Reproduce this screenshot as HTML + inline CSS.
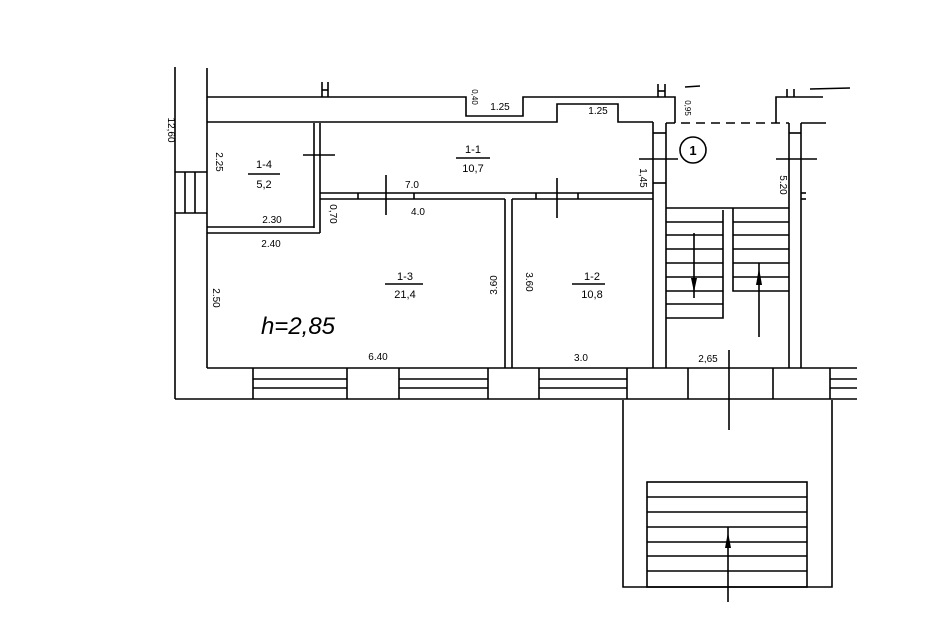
<!DOCTYPE html>
<html><head><meta charset="utf-8"><style>
html,body{margin:0;padding:0;background:#fff;}
svg{display:block;}
text{font-family:"Liberation Sans",sans-serif;fill:#000;}
</style></head><body>
<svg width="932" height="632" viewBox="0 0 932 632" xmlns="http://www.w3.org/2000/svg">
<g stroke="#000" stroke-width="1.6" fill="none">
<!-- outer left wall -->
<line x1="175" y1="67" x2="175" y2="399"/>
<line x1="207" y1="68" x2="207" y2="368"/>
<line x1="175" y1="399" x2="857" y2="399"/>
<!-- top wall -->
<polyline points="207,97 466,97 466,116 523,116 523,97 675,97 675,123"/>
<polyline points="207,122 557,122 557,104 618,104 618,122 653,122"/>
<line x1="322" y1="82" x2="322" y2="97"/><line x1="328" y1="82" x2="328" y2="97"/><line x1="322" y1="90" x2="328" y2="90"/>
<line x1="658" y1="84" x2="658" y2="97"/><line x1="665" y1="84" x2="665" y2="97"/><line x1="658" y1="91" x2="665" y2="91"/>
<line x1="685" y1="87" x2="700" y2="86"/>
<polyline points="776,123 776,97 823,97"/>
<line x1="787" y1="89" x2="787" y2="97"/><line x1="794" y1="89" x2="794" y2="97"/>
<line x1="810" y1="89" x2="850" y2="88"/>
<line x1="801" y1="123" x2="826" y2="123"/>
<!-- dashed -->
<line x1="666" y1="123" x2="789" y2="123" stroke-dasharray="9,6"/>
<!-- stair walls -->
<line x1="653" y1="122" x2="653" y2="368"/>
<line x1="666" y1="123" x2="666" y2="368"/>
<line x1="789" y1="123" x2="789" y2="368"/>
<line x1="801" y1="123" x2="801" y2="368"/>
<line x1="653" y1="133" x2="666" y2="133"/>
<line x1="653" y1="183" x2="666" y2="183"/>
<line x1="789" y1="133" x2="801" y2="133"/>
<line x1="801" y1="193" x2="806" y2="193"/><line x1="801" y1="199" x2="806" y2="199"/>
<line x1="639" y1="159" x2="678" y2="159"/>
<line x1="776" y1="159" x2="817" y2="159"/>
<line x1="666" y1="208" x2="789" y2="208"/>
<!-- left flight -->
<polyline points="666,318 723,318 723,210"/>
<g>
<line x1="666" y1="222" x2="723" y2="222"/><line x1="666" y1="235" x2="723" y2="235"/>
<line x1="666" y1="249" x2="723" y2="249"/><line x1="666" y1="263" x2="723" y2="263"/>
<line x1="666" y1="277" x2="723" y2="277"/><line x1="666" y1="291" x2="723" y2="291"/>
<line x1="666" y1="304" x2="723" y2="304"/>
</g>
<polyline points="733,208 733,291 789,291"/>
<line x1="733" y1="222" x2="789" y2="222"/><line x1="733" y1="235" x2="789" y2="235"/>
<line x1="733" y1="249" x2="789" y2="249"/><line x1="733" y1="263" x2="789" y2="263"/>
<line x1="733" y1="277" x2="789" y2="277"/>
<line x1="694" y1="233" x2="694" y2="298"/>
<line x1="759" y1="263" x2="759" y2="337"/>
<circle cx="693" cy="150" r="13"/>
<!-- left small stairs -->
<line x1="175" y1="172" x2="207" y2="172"/><line x1="175" y1="213" x2="207" y2="213"/>
<line x1="185" y1="172" x2="185" y2="213"/><line x1="195" y1="172" x2="195" y2="213"/>
<!-- room 1-4 -->
<line x1="314" y1="123" x2="314" y2="228"/>
<line x1="320" y1="123" x2="320" y2="233"/>
<line x1="207" y1="227" x2="314" y2="227"/>
<line x1="207" y1="233" x2="320" y2="233"/>
<line x1="303" y1="155" x2="335" y2="155"/>
<!-- corridor wall -->
<line x1="320" y1="193" x2="653" y2="193"/>
<line x1="320" y1="199" x2="505" y2="199"/>
<line x1="512" y1="199" x2="653" y2="199"/>
<line x1="358" y1="193" x2="358" y2="199"/><line x1="414" y1="193" x2="414" y2="199"/>
<line x1="536" y1="193" x2="536" y2="199"/><line x1="578" y1="193" x2="578" y2="199"/>
<line x1="386" y1="175" x2="386" y2="215"/>
<line x1="557" y1="178" x2="557" y2="218"/>
<line x1="505" y1="199" x2="505" y2="368"/>
<line x1="512" y1="199" x2="512" y2="368"/>
<!-- bottom inner wall and windows -->
<line x1="207" y1="368" x2="857" y2="368"/>
<g>
<line x1="253" y1="368" x2="253" y2="399"/><line x1="347" y1="368" x2="347" y2="399"/>
<line x1="253" y1="379" x2="347" y2="379"/><line x1="253" y1="388" x2="347" y2="388"/>
<line x1="399" y1="368" x2="399" y2="399"/><line x1="488" y1="368" x2="488" y2="399"/>
<line x1="399" y1="379" x2="488" y2="379"/><line x1="399" y1="388" x2="488" y2="388"/>
<line x1="539" y1="368" x2="539" y2="399"/><line x1="627" y1="368" x2="627" y2="399"/>
<line x1="539" y1="379" x2="627" y2="379"/><line x1="539" y1="388" x2="627" y2="388"/>
<line x1="688" y1="368" x2="688" y2="399"/><line x1="773" y1="368" x2="773" y2="399"/>
<line x1="830" y1="368" x2="830" y2="399"/>
<line x1="830" y1="379" x2="857" y2="379"/><line x1="830" y1="388" x2="857" y2="388"/>
</g>
<line x1="729" y1="350" x2="729" y2="430"/>
<!-- lower porch -->
<polyline points="623,400 623,587 832,587 832,400"/>
<rect x="647" y="482" width="160" height="105"/>
<line x1="647" y1="497" x2="807" y2="497"/><line x1="647" y1="512" x2="807" y2="512"/>
<line x1="647" y1="527" x2="807" y2="527"/><line x1="647" y1="542" x2="807" y2="542"/>
<line x1="647" y1="556" x2="807" y2="556"/><line x1="647" y1="571" x2="807" y2="571"/>
<line x1="728" y1="527" x2="728" y2="602"/>
<!-- room label underlines -->
<line x1="248" y1="174" x2="280" y2="174"/>
<line x1="456" y1="158" x2="490" y2="158"/>
<line x1="385" y1="284" x2="423" y2="284"/>
<line x1="572" y1="284" x2="605" y2="284"/>
</g>
<g fill="#000">
<polygon points="691,278 697,278 694,292"/>
<polygon points="756,285 762,285 759,268"/>
<polygon points="725,548 731,548 728,532"/>
</g>
<g font-size="11" text-anchor="middle">
<text x="264" y="168">1-4</text><text x="264" y="188">5,2</text>
<text x="473" y="153">1-1</text><text x="473" y="172">10,7</text>
<text x="405" y="280">1-3</text><text x="405" y="298">21,4</text>
<text x="592" y="280">1-2</text><text x="592" y="298">10,8</text>
<text x="693" y="155" font-size="13" font-weight="bold">1</text>
<text x="272" y="223" font-size="10">2.30</text>
<text x="271" y="247" font-size="10">2.40</text>
<text x="412" y="188" font-size="10">7.0</text>
<text x="418" y="215" font-size="10">4.0</text>
<text x="378" y="360" font-size="10">6.40</text>
<text x="581" y="361" font-size="10">3.0</text>
<text x="500" y="110" font-size="10">1.25</text>
<text x="598" y="114" font-size="10">1.25</text>
<text x="708" y="362" font-size="10">2,65</text>
<text x="298" y="334" font-size="24" font-style="italic">h=2,85</text>
</g>
<g font-size="10" text-anchor="middle">
<text transform="translate(168,130) rotate(90)">12,60</text>
<text transform="translate(216,162) rotate(90)">2.25</text>
<text transform="translate(213,298) rotate(90)">2.50</text>
<text transform="translate(330,214) rotate(90)">0,70</text>
<text transform="translate(497,285) rotate(-90)">3.60</text>
<text transform="translate(526,282) rotate(90)">3.60</text>
<text transform="translate(640,178) rotate(90)">1,45</text>
<text transform="translate(780,185) rotate(90)">5.20</text>
<text transform="translate(685,108) rotate(90)" font-size="8">0,95</text>
<text transform="translate(472,97) rotate(90)" font-size="8">0,40</text>
</g>
</svg>
</body></html>
